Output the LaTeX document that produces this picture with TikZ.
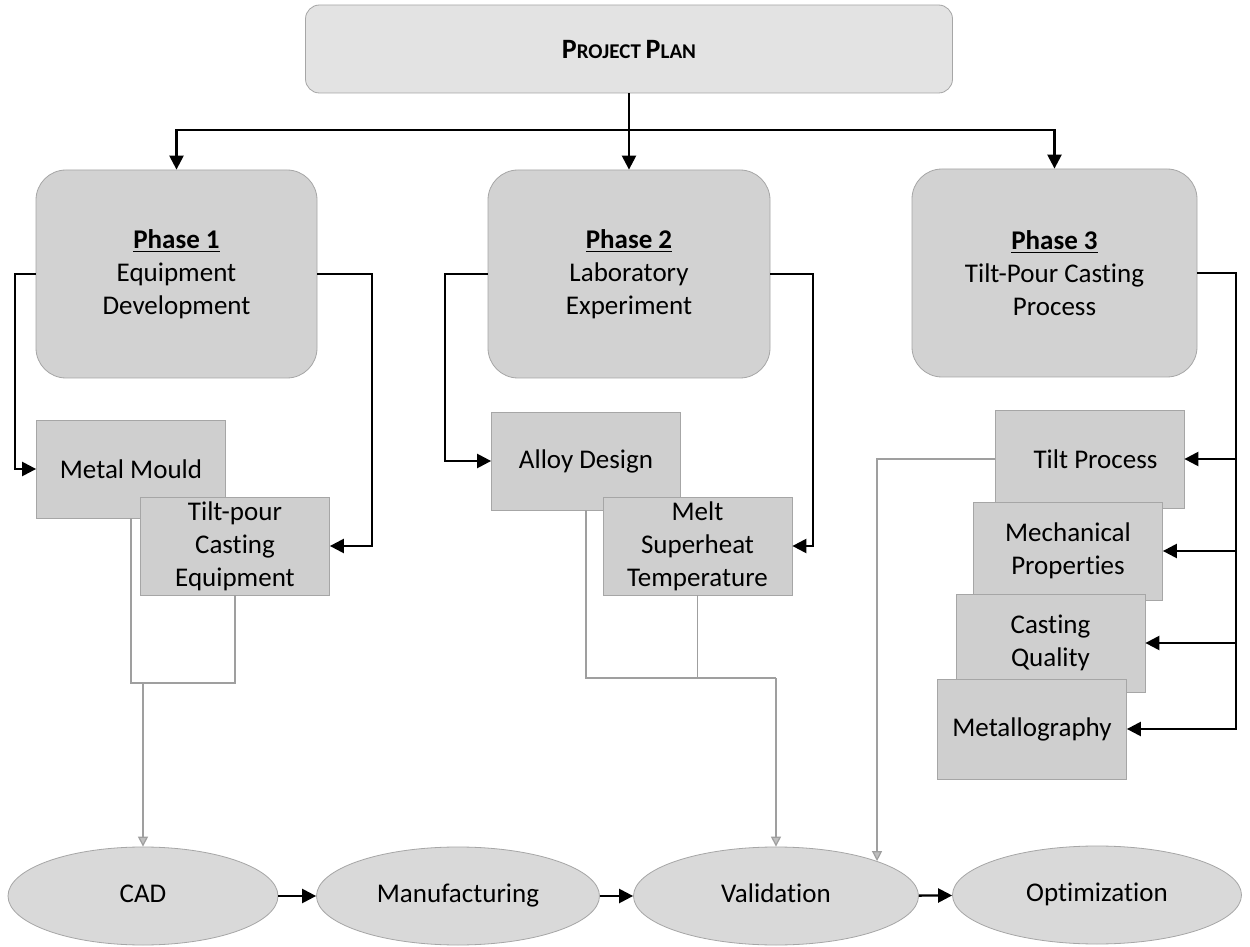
\documentclass[tikz,border=0pt]{standalone}
\usepackage{fontspec}
\setmainfont{Carlito}[Ligatures=NoCommon]
\usetikzlibrary{shapes.geometric,arrows.meta}
\begin{document}
\begin{tikzpicture}[x=0.5pt,y=-0.5pt,
 every node/.style={font=\fontsize{13.5}{16.5}\selectfont, align=center, inner sep=0pt},
 planbox/.style={draw=gray!70, fill=gray!22, rounded corners=7pt, minimum width=323.5pt, minimum height=44pt},
 phasebox/.style={draw=gray!70, fill=gray!35, rounded corners=15pt, minimum height=104pt},
 subbox/.style={draw=gray!70, fill=gray!38, minimum height=49pt, minimum width=94.5pt},
 oval/.style={ellipse, draw=gray!70, fill=gray!30, minimum height=49pt, text height=9pt, text depth=2.5pt},
 arr/.style={line width=1.2pt, -{Triangle[length=7pt,width=7pt]}},
 garr/.style={draw=gray!75, line width=0.6pt, -{Triangle[length=5pt,width=5pt,fill=gray!50]}},
 gline/.style={draw=gray!75, line width=0.6pt}]
\fill[white] (0,0) rectangle (1250,947);
\useasboundingbox (0,0) rectangle (1250,947);

% top
\node[planbox] (plan) at (629,49) {\fontsize{10.5}{16}\selectfont\textbf{{\fontsize{14}{16}\selectfont P}ROJECT {\fontsize{14}{16}\selectfont P}LAN}};

% phases
\node[phasebox, minimum width=140.5pt] (ph1) at (176.5,274) {\textbf{\underline{Phase 1}}\\Equipment\\Development};
\node[phasebox, minimum width=141pt] (ph2) at (629,274) {\textbf{\underline{Phase 2}}\\Laboratory\\Experiment};
\node[phasebox, minimum width=142.5pt] (ph3) at (1054.5,273) {\textbf{\underline{Phase 3}}\\Tilt-Pour Casting\\Process};

% sub boxes
\node[subbox] (mm) at (131,469) {Metal Mould};
\node[subbox] (tp) at (235,546) {Tilt-pour\\Casting\\Equipment};
\node[subbox] (ad) at (586,461) {Alloy Design};
\node[subbox] (mt) at (697.5,546) {Melt\\Superheat\\Temperature};
\node[subbox] (tpr) at (1089.5,459) {\hspace*{6pt}Tilt Process};
\node[subbox] (mp) at (1068,551) {Mechanical\\Properties};
\node[subbox] (cq) at (1050.5,643) {Casting\\Quality};
\node[subbox, minimum height=50pt] (mg) at (1032,729) {Metallography};

% ellipses
\node[oval, minimum width=135pt] (cad) at (143,896) {CAD};
\node[oval, minimum width=141.5pt] (man) at (458,896) {Manufacturing};
\node[oval, minimum width=142.5pt] (val) at (776,896) {Validation};
\node[oval, minimum width=144.5pt] (opt) at (1097,895) {Optimization};

% top connectors
\coordinate (bus) at (629,130);
\draw[line width=1.2pt] (plan.south) -- (bus);
\draw[arr] (bus) -| (ph1.north);
\draw[arr] (bus) -- (ph2.north);
\draw[arr] (bus) -| (ph3.north);

% phase 1 connectors
\coordinate (l1) at (15,274);
\coordinate (r1) at (372,274);
\draw[arr] (ph1.west) -- (l1) |- (mm.west);
\draw[arr] (ph1.east) -- (r1) |- (tp.east);

% phase 2 connectors
\coordinate (l2) at (445,274);
\coordinate (r2) at (813,274);
\draw[arr] (ph2.west) -- (l2) |- (ad.west);
\draw[arr] (ph2.east) -- (r2) |- (mt.east);

% phase 3 connectors
\coordinate (r3) at (1236,273);
\draw[arr] (ph3.east) -- (r3) |- (mg.east);
\draw[arr] (r3) |- (tpr.east);
\draw[arr] (r3) |- (mp.east);
\draw[arr] (r3) |- (cq.east);

% gray connectors to bottom row
\coordinate (j1a) at (131,683);
\coordinate (j1b) at (235,683);
\coordinate (j1c) at (143,683);
\draw[gline] (mm.south) -- (j1a) -- (j1b) -- (tp.south);
\draw[garr] (j1c) -- (cad.north);

\coordinate (j2a) at (586,678);
\coordinate (j2b) at (697.5,678);
\coordinate (j2c) at (776,678);
\draw[gline] (ad.south) -- (j2a) -- (j2c);
\draw[gline] (mt.south) -- (j2b);
\draw[garr] (j2c) -- (val.north);

\draw[garr] (tpr.west) -| (val.north east);

% bottom row arrows
\draw[arr] (cad) -- (man);
\draw[arr] (man) -- (val);
\draw[arr] (val) -- (opt);
\end{tikzpicture}
\end{document}
